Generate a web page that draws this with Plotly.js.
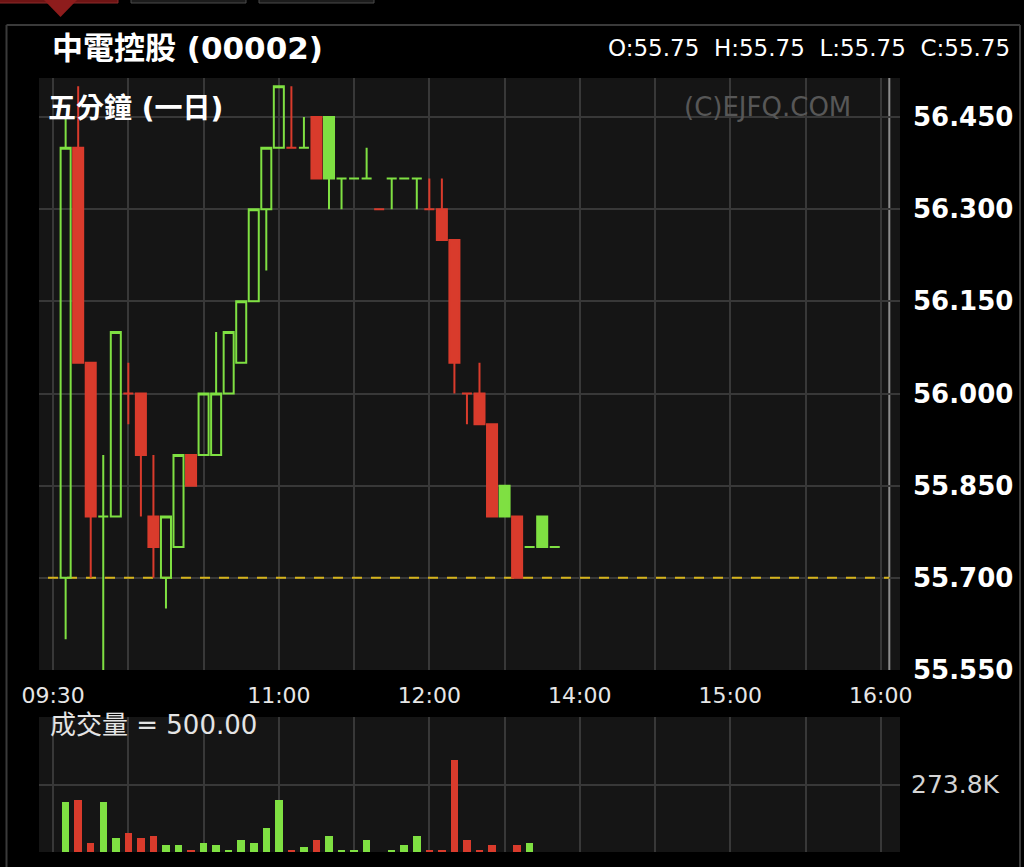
<!DOCTYPE html>
<html>
<head>
<meta charset="utf-8">
<script src="https://cdn.plot.ly/plotly-3.0.1.min.js"></script>
<style>
  html, body { margin: 0; padding: 0; background: #000; }
  #chart { width: 1024px; height: 867px; }
</style>
</head>
<body>
<div id="chart"></div>
<script>
// ---------------- data ----------------
const stockName = '中電控股 (00002)';
const periodLabel = '五分鐘 (一日)';
const watermark = '(C)EJFQ.COM';
const prevClose = 55.70;

const barTime = ['09:35','09:40','09:45','09:50','09:55','10:00','10:05','10:10','10:15','10:20',
                 '10:25','10:30','10:35','10:40','10:45','10:50','10:55','11:00','11:05','11:10',
                 '11:15','11:20','11:25','11:30','11:35','11:40','11:45','11:50','11:55','12:00',
                 '13:05','13:10','13:15','13:20','13:25','13:30','13:35','13:40','13:45','13:50'];

const openP  = [55.70,56.40,56.05,55.80,55.80,56.00,56.00,55.80,55.70,55.75,
                55.90,55.90,55.90,56.00,56.05,56.15,56.30,56.40,56.40,56.40,
                56.45,56.45,56.35,56.35,56.35,56.30,56.35,56.35,56.35,56.30,
                56.30,56.25,56.00,56.00,55.95,55.85,55.80,55.75,55.80,55.75];
const highP  = [56.45,56.50,56.05,55.90,56.10,56.05,56.00,55.90,55.80,55.90,
                55.90,56.00,56.10,56.10,56.15,56.30,56.40,56.50,56.50,56.45,
                56.45,56.45,56.35,56.35,56.40,56.30,56.35,56.35,56.35,56.35,
                56.35,56.25,56.00,56.05,55.95,55.85,55.80,55.75,55.80,55.75];
const lowP   = [55.60,56.05,55.70,55.55,55.80,55.95,55.80,55.70,55.65,55.75,
                55.85,55.90,55.90,56.00,56.05,56.15,56.20,56.40,56.40,56.40,
                56.35,56.30,56.30,56.35,56.35,56.30,56.30,56.35,56.30,56.30,
                56.25,56.00,55.95,55.95,55.80,55.80,55.70,55.75,55.75,55.75];
const closeP = [56.40,56.05,55.80,55.80,56.10,56.00,55.90,55.75,55.80,55.90,
                55.85,56.00,56.00,56.10,56.15,56.30,56.40,56.50,56.40,56.40,
                56.35,56.35,56.35,56.35,56.35,56.30,56.35,56.35,56.35,56.30,
                56.25,56.05,56.00,55.95,55.80,55.80,55.70,55.75,55.75,55.75];
const volume = [202000,212000,38000,202000,58000,77000,58000,67000,30000,30000,
                9000,38000,30000,9000,47000,38000,97000,212000,9000,20000,
                47000,67000,9000,9000,47000,1000,9000,30000,67000,9000,
                9000,374000,47000,9000,30000,1000,30000,38000,1000,500];

const priceTicks = [55.55, 55.70, 55.85, 56.00, 56.15, 56.30, 56.45];
const volTicks = [273800];
const volTickText = ['273.8K'];
const gridTimes = ['09:30','10:00','10:30','11:00','11:30','12:00','13:30','14:00','14:30','15:00','15:30','16:00'];
const labelTimes = ['09:30','11:00','12:00','14:00','15:00','16:00'];

const lastO = 55.75, lastH = 55.75, lastL = 55.75, lastC = 55.75;
const lastVolText = '成交量 = 500.00';

// ---------------- helpers ----------------
const W = 1024, H = 867;
const px = v => v / W;
const py = v => 1 - v / H;
// trading-session slot (5-minute bars, lunch break removed)
function slot(t) {
  const [h, m] = t.split(':').map(Number);
  const mm = h * 60 + m;
  return mm <= 720 ? (mm - 570) / 5 : 30 + (mm - 780) / 5;
}

const GREEN = '#7fe042';
const RED = '#d93b2c';
const GRID = '#383838';

const xs = barTime.map(slot);
const colorOf = closeP.map((c, i) => c >= (i === 0 ? prevClose : closeP[i - 1]) ? 'g' : 'r');
const dirOf = closeP.map((c, i) => c > openP[i] ? 'up' : 'down');

const groups = [
  { col: 'g', dir: 'up', line: GREEN, fill: 'rgba(0,0,0,0)' },
  { col: 'g', dir: 'down', line: GREEN, fill: GREEN },
  { col: 'r', dir: 'up', line: RED, fill: 'rgba(0,0,0,0)' },
  { col: 'r', dir: 'down', line: RED, fill: RED }
];

const traces = [];
groups.forEach(g => {
  const idx = xs.map((_, i) => i).filter(i => colorOf[i] === g.col && dirOf[i] === g.dir);
  if (!idx.length) return;
  const style = { line: { color: g.line, width: 2 }, fillcolor: g.fill };
  traces.push({
    type: 'candlestick',
    x: idx.map(i => xs[i]),
    open: idx.map(i => openP[i]),
    high: idx.map(i => highP[i]),
    low: idx.map(i => lowP[i]),
    close: idx.map(i => closeP[i]),
    increasing: style,
    decreasing: style,
    whiskerwidth: 0,
    hoverinfo: 'none',
    showlegend: false,
    xaxis: 'x', yaxis: 'y'
  });
});

traces.push({
  type: 'bar',
  x: xs,
  y: volume,
  width: 0.6,
  marker: { color: colorOf.map(c => c === 'g' ? GREEN : RED), line: { width: 0 } },
  hoverinfo: 'none',
  showlegend: false,
  xaxis: 'x2', yaxis: 'y2'
});

// pixel geometry
const slot0px = 53.1, slotPx = 12.541;
const xRange = [(39 - slot0px) / slotPx, (900 - slot0px) / slotPx];
const endMarker = (889.3 - slot0px) / slotPx;

const tickvals = gridTimes.map(slot);
const ticktext = gridTimes.map(t => labelTimes.includes(t) ? t : '');

const layout = {
  width: W, height: H, autosize: false,
  margin: { l: 0, r: 0, t: 0, b: 0, pad: 0 },
  paper_bgcolor: '#000000',
  plot_bgcolor: '#151515',
  showlegend: false,
  boxgap: 0.2, boxgroupgap: 0, boxmode: 'overlay',
  bargap: 0,
  xaxis: {
    domain: [px(39), px(900)], range: xRange, anchor: 'y',
    tickmode: 'array', tickvals: tickvals, ticktext: ticktext,
    showgrid: true, gridcolor: GRID, gridwidth: 2,
    zeroline: false, showline: false, ticks: '',
    tickfont: { family: 'DejaVu Sans', size: 22, color: '#e6e6e6' },
    ticklabelstandoff: 10,
    rangeslider: { visible: false }, fixedrange: true
  },
  yaxis: {
    domain: [py(670), py(78)], range: [55.55, 56.5135], anchor: 'x',
    tickmode: 'array', tickvals: priceTicks, tickformat: '.3f',
    side: 'right', showgrid: true, gridcolor: GRID, gridwidth: 2,
    zeroline: false, showline: false, ticks: '',
    tickfont: { family: 'DejaVu Sans', size: 26, color: '#ffffff', weight: 'bold' },
    ticklabelstandoff: 12, fixedrange: true
  },
  xaxis2: {
    domain: [px(39), px(900)], range: xRange, anchor: 'y2',
    tickmode: 'array', tickvals: tickvals, showticklabels: false,
    showgrid: true, gridcolor: GRID, gridwidth: 2,
    zeroline: false, showline: false, ticks: '', fixedrange: true
  },
  yaxis2: {
    domain: [py(852), py(717)], range: [0, 549000], anchor: 'x2',
    tickmode: 'array', tickvals: volTicks, ticktext: volTickText,
    side: 'right', showgrid: true, gridcolor: GRID, gridwidth: 2,
    zeroline: false, showline: false, ticks: '',
    tickfont: { family: 'DejaVu Sans', size: 25, color: '#d4d4d4' },
    ticklabelstandoff: 10, fixedrange: true
  },
  shapes: [
    // outer frame
    { type: 'line', xref: 'paper', yref: 'paper', x0: px(6.5), x1: px(6.5), y0: py(25), y1: 0, line: { color: '#3a3a3a', width: 2 } },
    { type: 'line', xref: 'paper', yref: 'paper', x0: px(6.5), x1: px(1020), y0: py(25), y1: py(25), line: { color: '#3a3a3a', width: 2 } },
    { type: 'line', xref: 'paper', yref: 'paper', x0: px(1020), x1: px(1020), y0: py(25), y1: 0, line: { color: '#3a3a3a', width: 2 } },
    // top tabs
    { type: 'rect', xref: 'paper', yref: 'paper', x0: px(-2), x1: px(118), y0: py(3), y1: py(-5), fillcolor: '#6e1414', line: { color: '#8a2a2a', width: 1 } },
    { type: 'path', xref: 'paper', yref: 'paper', path: `M ${px(44)} ${py(0)} L ${px(77)} ${py(0)} L ${px(60.5)} ${py(17)} Z`, fillcolor: '#8e1c1c', line: { width: 0 } },
    { type: 'rect', xref: 'paper', yref: 'paper', x0: px(131), x1: px(246), y0: py(3), y1: py(-5), fillcolor: '#1c1c1c', line: { color: '#4a4a4a', width: 1 } },
    { type: 'rect', xref: 'paper', yref: 'paper', x0: px(259), x1: px(374), y0: py(3), y1: py(-5), fillcolor: '#1c1c1c', line: { color: '#4a4a4a', width: 1 } },
    // previous close
    { type: 'line', xref: 'x', yref: 'y', x0: (48 - slot0px) / slotPx, x1: endMarker, y0: prevClose, y1: prevClose, layer: 'between', line: { color: '#d6b41c', width: 2, dash: '10px,9px' } },
    // end-of-session marker
    { type: 'line', xref: 'x', yref: 'paper', x0: endMarker, x1: endMarker, y0: py(670), y1: py(78), layer: 'between', line: { color: '#8c8c8c', width: 2 } }
  ],
  annotations: [
    { xref: 'paper', yref: 'paper', x: px(50), y: py(48), xanchor: 'left', yanchor: 'middle', showarrow: false,
      text: stockName, font: { family: 'DejaVu Sans, Noto Sans CJK TC', size: 31, color: '#ffffff', weight: 'bold' } },
    { xref: 'paper', yref: 'paper', x: px(1012), y: py(48), xanchor: 'right', yanchor: 'middle', showarrow: false,
      text: `O:${lastO.toFixed(2)}  H:${lastH.toFixed(2)}  L:${lastL.toFixed(2)}  C:${lastC.toFixed(2)}`,
      font: { family: 'DejaVu Sans', size: 23, color: '#ffffff' } },
    { xref: 'paper', yref: 'paper', x: px(46), y: py(109), xanchor: 'left', yanchor: 'middle', showarrow: false,
      text: periodLabel, font: { family: 'DejaVu Sans, Noto Sans CJK TC', size: 28, color: '#ffffff', weight: 'bold' } },
    { xref: 'paper', yref: 'paper', x: px(767), y: py(107), xanchor: 'center', yanchor: 'middle', showarrow: false,
      text: watermark, font: { family: 'DejaVu Sans', size: 26, color: '#575757' } },
    { xref: 'paper', yref: 'paper', x: px(48), y: py(725), xanchor: 'left', yanchor: 'middle', showarrow: false,
      text: lastVolText, font: { family: 'DejaVu Sans, Noto Sans CJK TC', size: 26, color: '#e4e4e4' } }
  ]
};

Plotly.newPlot('chart', traces, layout, { displayModeBar: false, staticPlot: true });
</script>
</body>
</html>
